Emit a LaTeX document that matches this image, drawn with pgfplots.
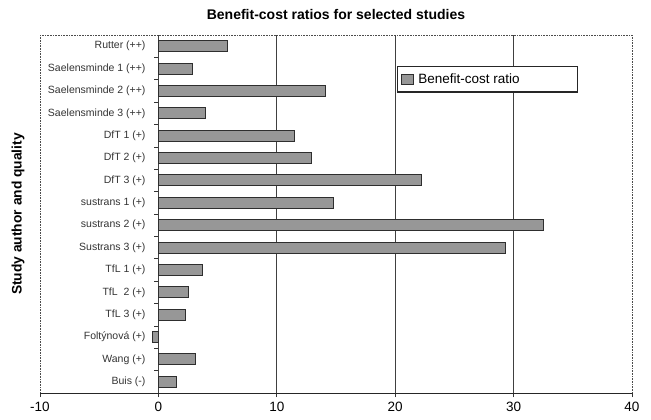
\documentclass[border=0pt]{standalone}
\usepackage{pgfplots}
\pgfplotsset{compat=1.18}
\usepackage{fontspec}
\setmainfont{Liberation Sans}

\definecolor{barfill}{HTML}{979797}
\definecolor{bardraw}{HTML}{2E2E2E}
\definecolor{labelgray}{HTML}{333333}

\begin{document}
\begin{tikzpicture}[x=1pt,y=1pt]
\useasboundingbox (0,0) rectangle (651,420);
\begin{axis}[
  at={(40pt,27pt)}, anchor=south west,
  scale only axis,
  width=592pt, height=358pt,
  xbar, bar width=11pt,
  xmin=-10, xmax=40,
  ymin=-0.5, ymax=15.5,
  y dir=reverse,
  xtick={-10,0,10,20,30,40},
  extra x ticks={0,10,20,30},
  extra x tick labels={},
  extra x tick style={grid=major, major grid style={draw=black!75, line width=0.9pt}},
  xtick pos=bottom,
  tick align=outside,
  major tick length=4pt,
  x tick style={draw=black!80, line width=0.8pt},
  /pgf/number format/assume math mode=true,
  xticklabel style={font=\fontsize{13.5}{15}\selectfont, yshift=-2pt},
  ytick={0,...,15},
  yticklabels={Rutter (++), Saelensminde 1 (++), Saelensminde 2 (++), Saelensminde 3 (++),
    DfT 1 (+), DfT 2 (+), DfT 3 (+), sustrans 1 (+), sustrans 2 (+), Sustrans 3 (+),
    TfL 1 (+), TfL\ \ 2 (+), TfL 3 (+), Foltýnová (+), Wang (+), Buis (-)},
  ytick pos=left,
  y tick style={draw=none},
  minor ytick={0.5,1.5,...,14.5},
  minor y tick style={draw=black!80, line width=0.7pt, xshift=118.4pt},
  minor tick length=4pt,
  yticklabel style={font=\fontsize{10.5}{12}\selectfont, text=labelgray, xshift=113pt},
  axis line style={densely dotted, draw=black!70, line width=0.6pt},
  title={Benefit-cost ratios for selected studies},
  title style={font=\fontsize{14}{16}\selectfont\bfseries, at={(0.5,1)}, anchor=south, yshift=6pt},
  ylabel={Study author and quality},
  ylabel style={font=\fontsize{13.8}{16}\selectfont\bfseries, at={(rel axis cs:-0.0372,0.5)}, anchor=center},
  legend style={at={(0.603,0.913)}, anchor=north west, draw=black!85, line width=1.2pt,
    font=\fontsize{13.5}{15}\selectfont, inner xsep=3pt, inner ysep=5pt},
  legend image code/.code={\draw[fill=barfill, draw=bardraw, line width=0.8pt] (2pt,-5pt) rectangle (14pt,5pt);},
]
\addplot[fill=barfill, draw=bardraw, line width=1pt] coordinates {
  (5.8,0) (2.9,1) (14.1,2) (4.0,3)
  (11.5,4) (12.9,5) (22.2,6) (14.8,7) (32.5,8) (29.3,9)
  (3.7,10) (2.5,11) (2.3,12) (-0.5,13) (3.1,14) (1.5,15)
};
\addlegendentry{\hspace*{3pt}Benefit-cost ratio\hspace*{53pt}}
\draw[black!85, line width=1pt] (rel axis cs:0,0) -- (rel axis cs:1,0);
\end{axis}
\end{tikzpicture}
\end{document}
